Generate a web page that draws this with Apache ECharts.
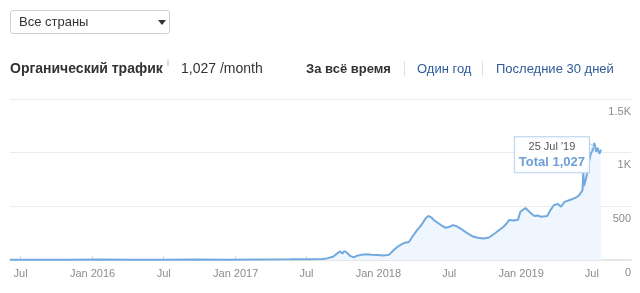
<!DOCTYPE html>
<html>
<head>
<meta charset="utf-8">
<script src="https://cdn.jsdelivr.net/npm/echarts@6/dist/echarts.min.js"></script>
<style>
  html, body { margin: 0; padding: 0; background: #fff; }
  body { width: 640px; height: 293px; position: relative; overflow: hidden;
         font-family: "Liberation Sans", Arial, sans-serif; color: #333; }
  #chart { position: absolute; left: 0; top: 0; width: 640px; height: 293px; }
  .abs { position: absolute; white-space: nowrap; }
  #country { left: 10px; top: 10px; width: 158px; height: 22px; border: 1px solid #cfcfcf;
             border-radius: 3px; background: #fff; }
  #country span { position: absolute; left: 8px; top: 3px; font-size: 13px; color: #333; }
  #country i { position: absolute; left: 147px; top: 9px; width: 0; height: 0;
               border-left: 4px solid transparent; border-right: 4px solid transparent;
               border-top: 5px solid #333; }
  #title { left: 10px; top: 60px; font-size: 14px; font-weight: bold; color: #333; }
  #info { left: 167px; top: 58px; font-size: 9px; color: #aaa; }
  #total { left: 181px; top: 60px; font-size: 14px; color: #333; }
  .tab { top: 61px; font-size: 13px; }
  .sep { top: 61px; width: 1px; height: 15px; background: #e0e0e0; }
</style>
</head>
<body>
<div id="chart"></div>
<div id="country" class="abs"><span>Все страны</span><i></i></div>
<div id="title" class="abs">Органический трафик</div>
<div id="info" class="abs">i</div>
<div id="total" class="abs">1,027 /month</div>
<div class="abs tab" style="left:306px;font-weight:bold;color:#333;">За всё время</div>
<div class="abs sep" style="left:404px;"></div>
<div class="abs tab" style="left:417px;color:#2d5b9b;">Один год</div>
<div class="abs sep" style="left:482px;"></div>
<div class="abs tab" style="left:496px;color:#2d5b9b;">Последние 30 дней</div>
<script>
// Organic traffic history (visits per month)
const dates = [
  '2015-06-04', '2015-08-15', '2015-11-01', '2016-01-20', '2016-04-10', '2016-07-01',
  '2016-09-20', '2016-12-10', '2017-03-01', '2017-05-20', '2017-07-15', '2017-08-10',
  '2017-08-22', '2017-09-07', '2017-09-18', '2017-09-25', '2017-10-01', '2017-10-06',
  '2017-10-12', '2017-10-15', '2017-10-21', '2017-10-30', '2017-11-08', '2017-11-20',
  '2017-12-03', '2017-12-15', '2017-12-29', '2018-01-14', '2018-01-28', '2018-02-10',
  '2018-02-20', '2018-02-27', '2018-03-07', '2018-03-20', '2018-03-28', '2018-04-10',
  '2018-04-21', '2018-05-02', '2018-05-09', '2018-05-16', '2018-05-23', '2018-06-09',
  '2018-06-22', '2018-07-02', '2018-07-11', '2018-07-20', '2018-07-30', '2018-08-16',
  '2018-08-29', '2018-09-12', '2018-09-27', '2018-10-11', '2018-10-28', '2018-11-17',
  '2018-11-25', '2018-12-01', '2018-12-12', '2018-12-24', '2018-12-30', '2019-01-12',
  '2019-01-26', '2019-02-04', '2019-02-12', '2019-02-21', '2019-03-09', '2019-03-17',
  '2019-03-26', '2019-04-05', '2019-04-13', '2019-04-22', '2019-05-09', '2019-05-22',
  '2019-05-30', '2019-06-07', '2019-06-09', '2019-06-11', '2019-06-14', '2019-06-17',
  '2019-06-21', '2019-06-28', '2019-07-03', '2019-07-07', '2019-07-10', '2019-07-12',
  '2019-07-16', '2019-07-20', '2019-07-23', '2019-07-25'
];
const traffic = [
  2, 3, 2, 4, 3, 3,
  4, 3, 5, 6, 8, 10,
  15, 30, 62, 80, 60, 84,
  70, 82, 38, 25, 40, 50,
  53, 50, 47, 42, 48, 95,
  125, 142, 158, 168, 212, 279,
  326, 388, 410, 398, 372, 328,
  300, 310, 325, 315, 293, 250,
  222, 208, 200, 210, 254, 310,
  340, 372, 368, 374, 450, 485,
  436, 410, 415, 403, 410, 465,
  512, 521, 496, 542, 564, 583,
  605, 651, 820, 690, 680, 775,
  868, 990, 1023, 1090, 1050, 1008,
  1045, 990, 1015, 1027
];
const yTicks = [0, 500, 1000, 1500];
const axisStart = '2015-06-04';
const axisEnd = '2019-10-09';

const MONTHS = ['Jan','Feb','Mar','Apr','May','Jun','Jul','Aug','Sep','Oct','Nov','Dec'];
const seriesData = dates.map((d, i) => [d, traffic[i]]);
const last = seriesData[seriesData.length - 1];

function fmtTip(dateStr) {
  const d = new Date(dateStr + 'T00:00:00Z');
  return d.getUTCDate() + ' ' + MONTHS[d.getUTCMonth()] + " '" + String(d.getUTCFullYear()).slice(2);
}
function fmtNum(v) { return v.toLocaleString('en-US'); }

const chart = echarts.init(document.getElementById('chart'), null, { renderer: 'canvas' });
chart.setOption({
  animation: false,
  textStyle: { fontFamily: '"Liberation Sans", Arial, sans-serif' },
  grid: { left: 10, right: 9, top: 99, bottom: 33 },
  xAxis: {
    type: 'time',
    min: axisStart,
    max: axisEnd,
    splitNumber: 6,
    axisLine: { show: true, lineStyle: { color: '#e6e6e6', width: 2 } },
    axisTick: { show: true, inside: true, length: 4, lineStyle: { color: '#d8d8d8' } },
    splitLine: { show: false },
    axisLabel: {
      color: '#8c8c8c', fontSize: 11, margin: 8,
      formatter: function (val) {
        const d = new Date(val);
        return d.getMonth() === 0 ? 'Jan ' + d.getFullYear() : MONTHS[d.getMonth()];
      }
    }
  },
  yAxis: {
    type: 'value',
    position: 'right',
    min: yTicks[0],
    max: yTicks[yTicks.length - 1],
    interval: yTicks[1] - yTicks[0],
    axisLine: { show: false },
    axisTick: { show: false },
    splitLine: { lineStyle: { color: '#ececec', width: 1 } },
    axisLabel: {
      inside: true, margin: 0, color: '#8c8c8c', fontSize: 11,
      verticalAlign: 'top', padding: [7, 0, 0, 0],
      formatter: v => v >= 1000 ? (v / 1000) + 'K' : String(v)
    }
  },
  series: [{
    type: 'line',
    data: seriesData,
    showSymbol: false,
    symbol: 'none',
    lineStyle: { color: '#72aadf', width: 2 },
    areaStyle: { color: '#eff6fd', opacity: 1 },
    markPoint: {
      silent: true,
      data: [
        {
          coord: last,
          value: last[1],
          symbol: 'circle',
          symbolSize: 1,
          itemStyle: { color: 'rgba(0,0,0,0)' },
          label: {
            show: true,
            position: [-86, -12],
            backgroundColor: 'rgba(255,255,255,0.9)',
            borderColor: '#b7d2ee',
            borderWidth: 1,
            padding: [3, 4, 2, 4],
            formatter: () => '{d|' + fmtTip(last[0]) + '}\n{t|Total ' + fmtNum(last[1]) + '}',
            rich: {
              d: { fontSize: 11, color: '#555', align: 'center', lineHeight: 14 },
              t: { fontSize: 13, fontWeight: 'bold', color: '#6c9fd6', align: 'center', lineHeight: 16 }
            }
          }
        },
        {
          coord: last,
          symbol: 'triangle',
          symbolRotate: -90,
          symbolSize: [8, 5],
          symbolOffset: [-10, -3],
          itemStyle: { color: '#fff', borderColor: '#b7d2ee', borderWidth: 1 },
          label: { show: false }
        }
      ]
    }
  }]
});
</script>
</body>
</html>
